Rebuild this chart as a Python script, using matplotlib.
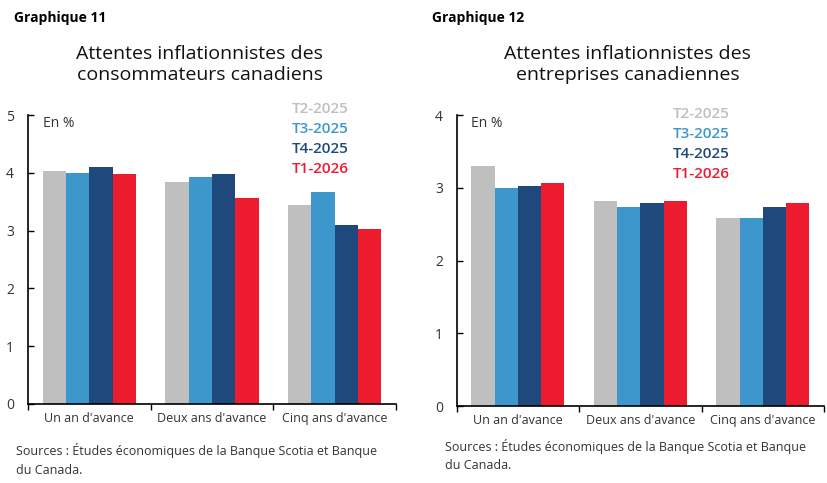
import numpy as np
import matplotlib
matplotlib.use("Agg")
from matplotlib import pyplot as plt

plt.rcParams['font.family'] = ['Open Sans', 'DejaVu Sans']

categories = ["Un an d'avance", "Deux ans d'avance", "Cinq ans d'avance"]
series = ["T2-2025", "T3-2025", "T4-2025", "T1-2026"]
colors = ["#BFBFBF", "#3D97CC", "#1F497D", "#EC1B2E"]

# Graphique 11 : consommateurs
conso = [
    [4.03, 3.84, 3.45],
    [4.00, 3.93, 3.66],
    [4.10, 3.98, 3.09],
    [3.98, 3.57, 3.02],
]
# Graphique 12 : entreprises
entr = [
    [3.30, 2.82, 2.59],
    [3.00, 2.73, 2.59],
    [3.03, 2.79, 2.73],
    [3.06, 2.82, 2.79],
]

fig = plt.figure(figsize=(8.28, 4.83), dpi=100)


def panel(rect, data, ymax, num, title, xnum, xtitle, xsrc, ysrc, leg_pos):
    ax = fig.add_axes(rect)
    x = np.arange(len(categories))
    w = 0.19
    for i, vals in enumerate(data):
        ax.bar(x + (i - 1.5) * w, vals, width=w, color=colors[i], zorder=2)
    ax.set_xlim(-0.5, len(categories) - 0.5)
    ax.set_ylim(0, ymax)
    ax.set_yticks(range(0, ymax + 1))
    ax.tick_params(axis='y', direction='in', length=4, width=1, labelsize=10,
                   labelcolor='#333333', pad=10)
    # ticks aux limites des groupes, étiquettes au centre
    ax.set_xticks(np.arange(-0.5, len(categories), 1.0))
    ax.set_xticklabels([])
    ax.set_xticks(x, minor=True)
    ax.set_xticklabels(categories, minor=True)
    ax.tick_params(axis='x', which='major', direction='out', length=4, width=1)
    ax.tick_params(axis='x', which='minor', length=0, labelsize=9,
                   labelcolor='#333333', pad=6)
    for s in ['top', 'right']:
        ax.spines[s].set_visible(False)
    ax.spines['left'].set_linewidth(1.2)
    ax.spines['bottom'].set_linewidth(1.2)
    ax.text(0.04, 0.995, "En %", transform=ax.transAxes, fontsize=10,
            color='#333333', va='top', ha='left')
    lx, ly = leg_pos
    for i, s in enumerate(series):
        fig.text(lx, ly - i * 0.041, s, color=colors[i], fontsize=11,
                 fontweight='semibold', va='top', ha='left')
    fig.text(xnum, 0.978, num, fontsize=10, fontweight='bold', va='top', ha='left')
    fig.text(xtitle, 0.907, title, fontsize=14, ha='center', va='top',
             linespacing=1.2, color='#111111', fontweight='medium')
    fig.text(xsrc, ysrc,
             "Sources : Études économiques de la Banque Scotia et Banque\ndu Canada.",
             fontsize=9, color='#333333', va='top', ha='left', linespacing=1.55)
    return ax


panel([0.0338, 0.1636, 0.4444, 0.5983], conso, 5, "Graphique 11",
      "Attentes inflationnistes des\nconsommateurs canadiens", 0.017, 0.241,
      0.019, 0.082, (0.352, 0.788))
panel([0.5516, 0.1594, 0.4436, 0.6025], entr, 4, "Graphique 12",
      "Attentes inflationnistes des\nentreprises canadiennes", 0.522, 0.758,
      0.537, 0.092, (0.812, 0.778))

fig.savefig("out.png", dpi=100)
